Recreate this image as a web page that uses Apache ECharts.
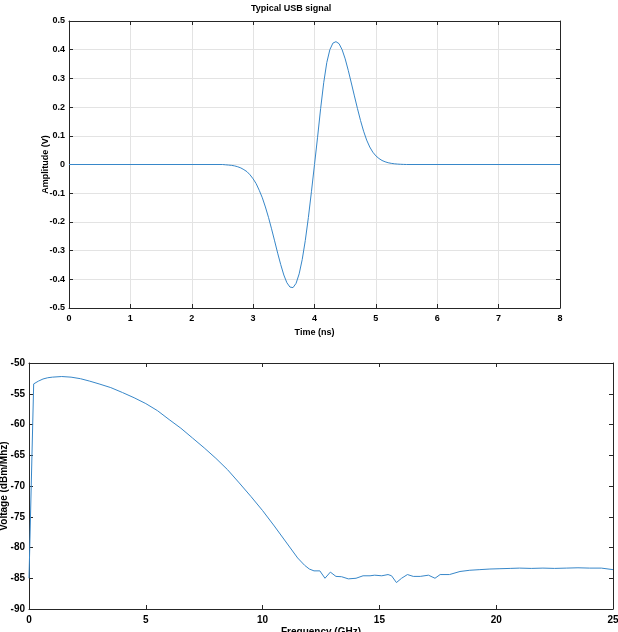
<!DOCTYPE html>
<html>
<head>
<meta charset="utf-8">
<script src="https://cdn.jsdelivr.net/npm/echarts@6/dist/echarts.min.js"></script>
<style>
html,body{margin:0;padding:0;background:#fff;}
#chart{width:618px;height:632px;}
</style>
</head>
<body>
<div id="chart"></div>
<script>
// ---- Top plot: typical USB signal ----
var timeNs = [0, 2.50, 2.55, 2.60, 2.65, 2.70, 2.75, 2.80, 2.85, 2.90, 2.95,
  3.00, 3.05, 3.10, 3.15, 3.20, 3.25, 3.30, 3.35, 3.40, 3.45,
  3.50, 3.55, 3.60, 3.65, 3.70, 3.75, 3.80, 3.85, 3.90, 3.95,
  4.00, 4.05, 4.10, 4.15, 4.20, 4.25, 4.30, 4.35, 4.40, 4.45,
  4.50, 4.55, 4.60, 4.65, 4.70, 4.75, 4.80, 4.85, 4.90, 4.95,
  5.00, 5.05, 5.10, 5.15, 5.20, 5.25, 5.30, 5.35, 5.40, 5.45, 5.50, 8];
var amplitudeV = [0, 0, -0.001, -0.002, -0.003, -0.005, -0.008, -0.012, -0.018, -0.025, -0.036,
  -0.050, -0.067, -0.090, -0.116, -0.148, -0.184, -0.224, -0.266, -0.309, -0.349,
  -0.385, -0.412, -0.427, -0.429, -0.414, -0.381, -0.331, -0.265, -0.185, -0.095,
  0, 0.095, 0.195, 0.285, 0.355, 0.400, 0.423, 0.428, 0.421, 0.400,
  0.368, 0.328, 0.284, 0.239, 0.195, 0.153, 0.116, 0.085, 0.061, 0.043,
  0.030, 0.021, 0.014, 0.0095, 0.0062, 0.004, 0.0025, 0.0015, 0.0008, 0.0003, 0, 0];

// ---- Bottom plot: spectrum ----
var freqGHz = [0, 0.2, 0.4, 0.6, 0.8, 1.0, 1.4, 1.8, 2.2, 2.6, 3.0, 3.5, 4.0, 4.5, 5.0,
  5.5, 6.0, 6.5, 7.0, 7.5, 8.0, 8.5, 9.0, 9.5, 10.0, 10.5, 11.0, 11.5, 11.8, 12.0,
  12.2, 12.45, 12.67, 12.9, 13.14, 13.38, 13.67, 14.0, 14.3, 14.6, 14.8, 15.1, 15.37,
  15.52, 15.73, 15.95, 16.2, 16.45, 16.75, 17.1, 17.38, 17.6, 18.0, 18.45, 18.87,
  19.3, 19.73, 20.16, 20.6, 21.0, 21.5, 22.0, 22.5, 23.0, 23.5, 24.0, 24.5, 25.0];
var voltageDbm = [-85, -53.4, -52.95, -52.6, -52.4, -52.3, -52.2, -52.3, -52.55, -52.95, -53.4, -54.0, -54.8, -55.65, -56.6,
  -57.75, -59.2, -60.6, -62.2, -63.8, -65.5, -67.35, -69.5, -71.7, -74.0, -76.5, -79.1, -81.7, -82.9, -83.5,
  -83.8, -83.8, -85.0, -84.0, -84.7, -84.75, -85.1, -85.0, -84.6, -84.6, -84.5, -84.6, -84.4,
  -84.6, -85.7, -85.0, -84.4, -84.7, -84.7, -84.5, -85.0, -84.4, -84.4, -83.9, -83.7,
  -83.6, -83.5, -83.45, -83.4, -83.35, -83.4, -83.35, -83.4, -83.35, -83.3, -83.35, -83.35, -83.6];

var topTicksX = [0, 8, 1];
var topTicksY = [-0.5, 0.5, 0.1];
var botTicksX = [0, 25, 5];
var botTicksY = [-90, -50, 5];

function pairs(xs, ys) { return xs.map(function (x, i) { return [x, ys[i]]; }); }

var FONT = 'Liberation Sans, Arial, Helvetica, sans-serif';
var AX = '#262626';
var LINE = '#3787c9';

function mainAxis(pos, gi, t, fs, showGrid, name, nameGap) {
  return {
    type: 'value', gridIndex: gi, position: pos,
    min: t[0], max: t[1], interval: t[2],
    name: name, nameLocation: 'middle', nameGap: nameGap, nameMoveOverlap: false,
    nameTextStyle: { fontFamily: FONT, fontWeight: 'bold', fontSize: fs, color: '#000' },
    axisLine: { show: true, onZero: false, lineStyle: { color: AX, width: 1 } },
    axisTick: { show: true, inside: true, length: 4, lineStyle: { color: AX } },
    axisLabel: { fontFamily: FONT, fontWeight: 'bold', fontSize: fs, color: '#000',
      margin: pos === 'left' ? 4 : 6 },
    splitLine: { show: showGrid, lineStyle: { color: '#e3e3e3', width: 1 } }
  };
}
function boxAxis(pos, gi, t) {
  return {
    type: 'value', gridIndex: gi, position: pos,
    min: t[0], max: t[1], interval: t[2],
    axisLine: { show: true, onZero: false, lineStyle: { color: AX, width: 1 } },
    axisTick: { show: true, inside: true, length: 4, lineStyle: { color: AX } },
    axisLabel: { show: false },
    splitLine: { show: false }
  };
}

var chart = echarts.init(document.getElementById('chart'), null, { renderer: 'canvas' });
chart.setOption({
  animation: false,
  backgroundColor: '#fff',
  title: {
    text: 'Typical USB signal',
    left: 251, top: 4, padding: 0,
    textStyle: { fontFamily: FONT, fontWeight: 'bold', fontSize: 9, color: '#000' }
  },
  grid: [
    { left: 69, top: 21, width: 491, height: 287, containLabel: false, outerBoundsMode: 'none' },
    { left: 29, top: 363, width: 584, height: 246, containLabel: false, outerBoundsMode: 'none' }
  ],
  xAxis: [
    mainAxis('bottom', 0, topTicksX, 9, true, 'Time (ns)', 20),
    boxAxis('top', 0, topTicksX),
    mainAxis('bottom', 1, botTicksX, 10, false, 'Frequency (GHz)', 18),
    boxAxis('top', 1, botTicksX)
  ],
  yAxis: [
    mainAxis('left', 0, topTicksY, 9, true, 'Amplitude (V)', 19),
    boxAxis('right', 0, topTicksY),
    mainAxis('left', 1, botTicksY, 10, false, 'Voltage (dBm/Mhz)', 20),
    boxAxis('right', 1, botTicksY)
  ],
  series: [
    { type: 'line', xAxisIndex: 0, yAxisIndex: 0, data: pairs(timeNs, amplitudeV),
      showSymbol: false, lineStyle: { color: LINE, width: 1 }, itemStyle: { color: LINE } },
    { type: 'line', xAxisIndex: 2, yAxisIndex: 2, data: pairs(freqGHz, voltageDbm),
      showSymbol: false, lineStyle: { color: LINE, width: 1 }, itemStyle: { color: LINE } }
  ]
});
</script>
</body>
</html>
